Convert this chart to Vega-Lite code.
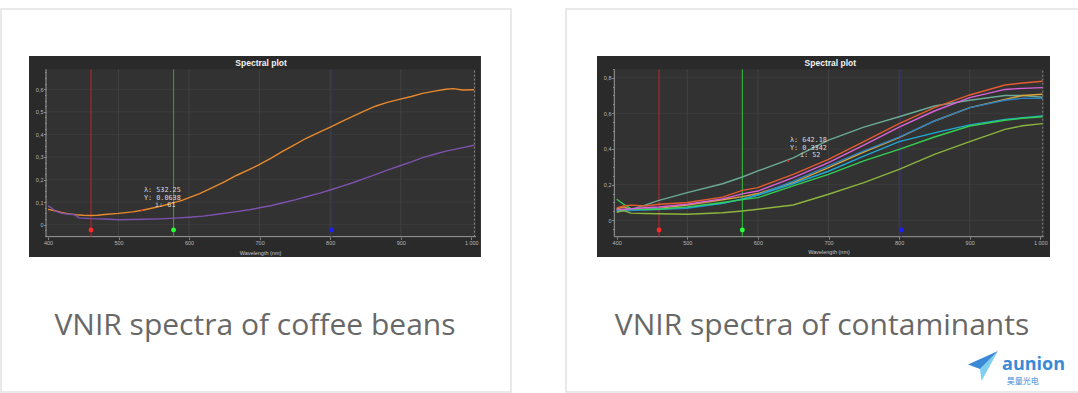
{
  "$schema": "https://vega.github.io/schema/vega-lite/v6.json",
  "background": "white",
  "padding": {"left": 0, "top": 8, "right": 0, "bottom": 0},
  "spacing": 53,
  "resolve": {"scale": {"color": "independent", "fill": "independent", "stroke": "independent", "x": "independent", "y": "independent"}},
  "config": {
    "view": {"stroke": "#e2e2e2", "strokeWidth": 1.5},
    "axis": {"domain": false, "grid": false, "labelFont": "Liberation Sans", "labelFontSize": 5.5, "labelColor": "#b8b8b8", "tickColor": "#9a9a9a", "tickWidth": 0.8, "tickSize": 2.5, "labelOverlap": false, "labelFlush": false, "titleFont": "Liberation Sans", "titleFontSize": 5.5, "titleColor": "#c4c4c4", "titleFontWeight": "normal"}
  },
  "datasets": {
    "coffee": [
      {"s":"bean1","x":400,"y":0.068},{"s":"bean1","x":410,"y":0.062},{"s":"bean1","x":420,"y":0.053},{"s":"bean1","x":430,"y":0.048},{"s":"bean1","x":440,"y":0.044},{"s":"bean1","x":450,"y":0.042},{"s":"bean1","x":460,"y":0.041},{"s":"bean1","x":470,"y":0.042},{"s":"bean1","x":480,"y":0.045},{"s":"bean1","x":500,"y":0.05},{"s":"bean1","x":520,"y":0.057},{"s":"bean1","x":534,"y":0.064},{"s":"bean1","x":550,"y":0.075},{"s":"bean1","x":565,"y":0.086},{"s":"bean1","x":577,"y":0.097},{"s":"bean1","x":590,"y":0.108},{"s":"bean1","x":600,"y":0.12},{"s":"bean1","x":615,"y":0.138},{"s":"bean1","x":633,"y":0.164},{"s":"bean1","x":650,"y":0.19},{"s":"bean1","x":667,"y":0.218},{"s":"bean1","x":685,"y":0.244},{"s":"bean1","x":700,"y":0.267},{"s":"bean1","x":717,"y":0.296},{"s":"bean1","x":733,"y":0.326},{"s":"bean1","x":750,"y":0.355},{"s":"bean1","x":766,"y":0.383},{"s":"bean1","x":784,"y":0.409},{"s":"bean1","x":801,"y":0.433},{"s":"bean1","x":816,"y":0.457},{"s":"bean1","x":832,"y":0.48},{"s":"bean1","x":848,"y":0.503},{"s":"bean1","x":865,"y":0.526},{"s":"bean1","x":881,"y":0.542},{"s":"bean1","x":898,"y":0.555},{"s":"bean1","x":915,"y":0.568},{"s":"bean1","x":931,"y":0.582},{"s":"bean1","x":948,"y":0.592},{"s":"bean1","x":964,"y":0.6},{"s":"bean1","x":974,"y":0.603},{"s":"bean1","x":988,"y":0.597},{"s":"bean1","x":1004,"y":0.598},
      {"s":"bean2","x":400,"y":0.083},{"s":"bean2","x":405,"y":0.075},{"s":"bean2","x":410,"y":0.06},{"s":"bean2","x":420,"y":0.05},{"s":"bean2","x":430,"y":0.046},{"s":"bean2","x":437,"y":0.045},{"s":"bean2","x":444,"y":0.03},{"s":"bean2","x":460,"y":0.027},{"s":"bean2","x":480,"y":0.025},{"s":"bean2","x":500,"y":0.022},{"s":"bean2","x":520,"y":0.023},{"s":"bean2","x":538,"y":0.024},{"s":"bean2","x":560,"y":0.026},{"s":"bean2","x":580,"y":0.029},{"s":"bean2","x":600,"y":0.033},{"s":"bean2","x":620,"y":0.038},{"s":"bean2","x":640,"y":0.046},{"s":"bean2","x":667,"y":0.058},{"s":"bean2","x":685,"y":0.066},{"s":"bean2","x":700,"y":0.075},{"s":"bean2","x":717,"y":0.085},{"s":"bean2","x":733,"y":0.097},{"s":"bean2","x":750,"y":0.11},{"s":"bean2","x":766,"y":0.124},{"s":"bean2","x":784,"y":0.139},{"s":"bean2","x":801,"y":0.155},{"s":"bean2","x":816,"y":0.17},{"s":"bean2","x":832,"y":0.186},{"s":"bean2","x":848,"y":0.204},{"s":"bean2","x":865,"y":0.223},{"s":"bean2","x":881,"y":0.242},{"s":"bean2","x":898,"y":0.26},{"s":"bean2","x":915,"y":0.278},{"s":"bean2","x":931,"y":0.297},{"s":"bean2","x":948,"y":0.312},{"s":"bean2","x":964,"y":0.326},{"s":"bean2","x":983,"y":0.338},{"s":"bean2","x":1004,"y":0.352}
    ],
    "contam": [
      {"s":"teal","x":400,"y":0.06},{"s":"teal","x":410,"y":0.055},{"s":"teal","x":420,"y":0.06},{"s":"teal","x":440,"y":0.085},{"s":"teal","x":460,"y":0.112},{"s":"teal","x":500,"y":0.155},{"s":"teal","x":550,"y":0.205},{"s":"teal","x":578,"y":0.243},{"s":"teal","x":600,"y":0.277},{"s":"teal","x":650,"y":0.35},{"s":"teal","x":700,"y":0.45},{"s":"teal","x":750,"y":0.523},{"s":"teal","x":800,"y":0.581},{"s":"teal","x":850,"y":0.641},{"s":"teal","x":900,"y":0.673},{"s":"teal","x":950,"y":0.7},{"s":"teal","x":975,"y":0.7},{"s":"teal","x":1003,"y":0.69},
      {"s":"yellow","x":400,"y":0.065},{"s":"yellow","x":410,"y":0.075},{"s":"yellow","x":420,"y":0.06},{"s":"yellow","x":440,"y":0.062},{"s":"yellow","x":460,"y":0.067},{"s":"yellow","x":500,"y":0.086},{"s":"yellow","x":550,"y":0.115},{"s":"yellow","x":578,"y":0.133},{"s":"yellow","x":600,"y":0.15},{"s":"yellow","x":650,"y":0.211},{"s":"yellow","x":700,"y":0.295},{"s":"yellow","x":750,"y":0.383},{"s":"yellow","x":800,"y":0.464},{"s":"yellow","x":850,"y":0.557},{"s":"yellow","x":900,"y":0.632},{"s":"yellow","x":950,"y":0.678},{"s":"yellow","x":975,"y":0.7},{"s":"yellow","x":1003,"y":0.707},
      {"s":"blue","x":400,"y":0.05},{"s":"blue","x":420,"y":0.055},{"s":"blue","x":440,"y":0.058},{"s":"blue","x":460,"y":0.06},{"s":"blue","x":500,"y":0.067},{"s":"blue","x":550,"y":0.095},{"s":"blue","x":578,"y":0.118},{"s":"blue","x":600,"y":0.142},{"s":"blue","x":650,"y":0.22},{"s":"blue","x":700,"y":0.305},{"s":"blue","x":750,"y":0.389},{"s":"blue","x":800,"y":0.467},{"s":"blue","x":850,"y":0.557},{"s":"blue","x":900,"y":0.632},{"s":"blue","x":950,"y":0.673},{"s":"blue","x":975,"y":0.685},{"s":"blue","x":1003,"y":0.684},
      {"s":"cyan","x":400,"y":0.055},{"s":"cyan","x":420,"y":0.06},{"s":"cyan","x":440,"y":0.062},{"s":"cyan","x":460,"y":0.064},{"s":"cyan","x":500,"y":0.071},{"s":"cyan","x":550,"y":0.095},{"s":"cyan","x":578,"y":0.12},{"s":"cyan","x":600,"y":0.142},{"s":"cyan","x":650,"y":0.205},{"s":"cyan","x":700,"y":0.275},{"s":"cyan","x":750,"y":0.36},{"s":"cyan","x":800,"y":0.441},{"s":"cyan","x":850,"y":0.49},{"s":"cyan","x":900,"y":0.535},{"s":"cyan","x":950,"y":0.566},{"s":"cyan","x":975,"y":0.575},{"s":"cyan","x":1003,"y":0.585},
      {"s":"green","x":400,"y":0.118},{"s":"green","x":410,"y":0.09},{"s":"green","x":420,"y":0.065},{"s":"green","x":440,"y":0.06},{"s":"green","x":460,"y":0.062},{"s":"green","x":500,"y":0.075},{"s":"green","x":550,"y":0.1},{"s":"green","x":578,"y":0.116},{"s":"green","x":600,"y":0.127},{"s":"green","x":650,"y":0.193},{"s":"green","x":700,"y":0.258},{"s":"green","x":750,"y":0.333},{"s":"green","x":800,"y":0.398},{"s":"green","x":850,"y":0.467},{"s":"green","x":900,"y":0.529},{"s":"green","x":950,"y":0.561},{"s":"green","x":975,"y":0.572},{"s":"green","x":1003,"y":0.581},
      {"s":"olive","x":400,"y":0.045},{"s":"olive","x":410,"y":0.055},{"s":"olive","x":420,"y":0.04},{"s":"olive","x":440,"y":0.038},{"s":"olive","x":460,"y":0.037},{"s":"olive","x":500,"y":0.034},{"s":"olive","x":550,"y":0.042},{"s":"olive","x":578,"y":0.052},{"s":"olive","x":600,"y":0.062},{"s":"olive","x":650,"y":0.086},{"s":"olive","x":700,"y":0.146},{"s":"olive","x":750,"y":0.211},{"s":"olive","x":800,"y":0.286},{"s":"olive","x":850,"y":0.37},{"s":"olive","x":900,"y":0.441},{"s":"olive","x":950,"y":0.51},{"s":"olive","x":975,"y":0.53},{"s":"olive","x":1003,"y":0.542},
      {"s":"magenta","x":400,"y":0.06},{"s":"magenta","x":420,"y":0.065},{"s":"magenta","x":440,"y":0.07},{"s":"magenta","x":460,"y":0.075},{"s":"magenta","x":500,"y":0.09},{"s":"magenta","x":550,"y":0.12},{"s":"magenta","x":578,"y":0.148},{"s":"magenta","x":600,"y":0.164},{"s":"magenta","x":650,"y":0.239},{"s":"magenta","x":700,"y":0.323},{"s":"magenta","x":750,"y":0.422},{"s":"magenta","x":800,"y":0.523},{"s":"magenta","x":850,"y":0.613},{"s":"magenta","x":900,"y":0.688},{"s":"magenta","x":950,"y":0.734},{"s":"magenta","x":975,"y":0.74},{"s":"magenta","x":1003,"y":0.744},
      {"s":"red","x":400,"y":0.07},{"s":"red","x":410,"y":0.08},{"s":"red","x":420,"y":0.085},{"s":"red","x":440,"y":0.08},{"s":"red","x":460,"y":0.09},{"s":"red","x":500,"y":0.1},{"s":"red","x":550,"y":0.13},{"s":"red","x":578,"y":0.168},{"s":"red","x":600,"y":0.183},{"s":"red","x":650,"y":0.258},{"s":"red","x":700,"y":0.342},{"s":"red","x":750,"y":0.441},{"s":"red","x":800,"y":0.542},{"s":"red","x":850,"y":0.632},{"s":"red","x":900,"y":0.703},{"s":"red","x":950,"y":0.759},{"s":"red","x":975,"y":0.77},{"s":"red","x":1003,"y":0.78}
    ]
  },
  "hconcat": [
    {
      "width": 510,
      "height": 383,
      "resolve": {"axis": {"y": "independent"}},
      "layer": [
        {"layer": [
        {"data": {"values": [{"x": 373.1, "x2": 1013.7, "y": -0.1431, "y2": 0.7475}]}, "mark": {"type": "rect", "fill": "#2a2a2a"},
          "encoding": {
            "x": {"field": "x", "type": "quantitative", "scale": {"domain": [333.4, 1056.3], "nice": false, "zero": false},
              "axis": {"zindex": 2, "offset": -155, "title": "Wavelength (nm)", "titleX": 259, "titleY": 15, "titleBaseline": "middle", "labelPadding": 1,
                "values": [400, 500, 600, 700, 800, 900, 1000],
                "labelExpr": "datum.value == 1000 ? '1 000' : '' + datum.value"}},
            "y": {"field": "y", "type": "quantitative", "scale": {"domain": [-0.7413, 0.9557], "nice": false, "zero": false},
              "axis": {"zindex": 2, "orient": "left", "offset": -45, "title": null, "labelPadding": 0.5,
                "values": [0, 0.1, 0.2, 0.3, 0.4, 0.5, 0.6],
                "labelExpr": "datum.value == 0 ? '0' : replace(format(datum.value, '.1f'), '.', ',')"}},
            "x2": {"field": "x2"}, "y2": {"field": "y2"}}},
        {"data": {"values": [{"x": 397.2, "x2": 1006.7, "y": -0.053, "y2": 0.689}]}, "mark": {"type": "rect", "fill": "#323232"}, "encoding": {"x": {"field": "x", "type": "quantitative"}, "y": {"field": "y", "type": "quantitative"}, "x2": {"field": "x2"}, "y2": {"field": "y2"}}},
        {"data": {"values": [{"x": 500, "y": -0.053, "y2": 0.689},{"x": 600, "y": -0.053, "y2": 0.689},{"x": 700, "y": -0.053, "y2": 0.689},{"x": 800, "y": -0.053, "y2": 0.689},{"x": 900, "y": -0.053, "y2": 0.689}]}, "mark": {"type": "rule", "stroke": "#474747", "strokeWidth": 0.7}, "encoding": {"x": {"field": "x", "type": "quantitative"}, "y": {"field": "y", "type": "quantitative"}, "y2": {"field": "y2"}}},
        {"data": {"values": [{"y": 0, "x": 397.2, "x2": 1006.7},{"y": 0.1, "x": 397.2, "x2": 1006.7},{"y": 0.2, "x": 397.2, "x2": 1006.7},{"y": 0.3, "x": 397.2, "x2": 1006.7},{"y": 0.4, "x": 397.2, "x2": 1006.7},{"y": 0.5, "x": 397.2, "x2": 1006.7},{"y": 0.6, "x": 397.2, "x2": 1006.7}]}, "mark": {"type": "rule", "stroke": "#404040", "strokeWidth": 0.7}, "encoding": {"x": {"field": "x", "type": "quantitative"}, "y": {"field": "y", "type": "quantitative"}, "x2": {"field": "x2"}}},
        {"data": {"values": [{"x": 397.2, "y": -0.053, "y2": 0.689}]}, "mark": {"type": "rule", "stroke": "#9c9c9c", "strokeWidth": 1}, "encoding": {"x": {"field": "x", "type": "quantitative"}, "y": {"field": "y", "type": "quantitative"}, "y2": {"field": "y2"}}},
        {"data": {"values": [{"y": -0.053, "x": 397.2, "x2": 1006.7}]}, "mark": {"type": "rule", "stroke": "#9c9c9c", "strokeWidth": 1}, "encoding": {"x": {"field": "x", "type": "quantitative"}, "y": {"field": "y", "type": "quantitative"}, "x2": {"field": "x2"}}},
        {"data": {"values": [{"x": 1004.5, "y": -0.053, "y2": 0.689}]}, "mark": {"type": "rule", "stroke": "#8a8a8a", "strokeWidth": 1, "strokeDash": [2, 2]}, "encoding": {"x": {"field": "x", "type": "quantitative"}, "y": {"field": "y", "type": "quantitative"}, "y2": {"field": "y2"}}},
        {"data": {"values": [{"m": "r", "x": 461, "y": -0.053, "y2": 0.689},{"m": "g", "x": 578, "y": -0.053, "y2": 0.689},{"m": "b", "x": 802, "y": -0.053, "y2": 0.689}]}, "mark": {"type": "rule", "strokeWidth": 1.1}, "encoding": {"x": {"field": "x", "type": "quantitative"}, "y": {"field": "y", "type": "quantitative"}, "y2": {"field": "y2"}, "stroke": {"field": "m", "type": "nominal", "scale": {"domain": ["r", "g", "b"], "range": ["#b5262b", "#2f9d37", "#2c2ca3"]}, "legend": null}}},
        {"data": {"name": "coffee"}, "mark": {"type": "line", "strokeWidth": 1.4}, "encoding": {"x": {"field": "x", "type": "quantitative"}, "y": {"field": "y", "type": "quantitative"}, "color": {"field": "s", "type": "nominal", "scale": {"domain": ["bean1", "bean2"], "range": ["#e8892c", "#7d52ad"]}, "legend": null}}},
        {"data": {"values": [{"m": "r", "x": 461, "y": -0.023},{"m": "g", "x": 578, "y": -0.023},{"m": "b", "x": 802, "y": -0.023}]}, "mark": {"type": "circle", "size": 24, "opacity": 1}, "encoding": {"x": {"field": "x", "type": "quantitative"}, "y": {"field": "y", "type": "quantitative"}, "fill": {"field": "m", "type": "nominal", "scale": {"domain": ["r", "g", "b"], "range": ["#ff2b2b", "#2bff3a", "#1e1eff"]}, "legend": null}}},
        {"data": {"values": [{"x": 533, "y": 0.065}]}, "mark": {"type": "circle", "size": 5, "color": "#e02a2a", "opacity": 1}, "encoding": {"x": {"field": "x", "type": "quantitative"}, "y": {"field": "y", "type": "quantitative"}}},
        {"data": {"values": [{"x": 536, "y": 0.152, "t": "λ:  532.25"},{"x": 536, "y": 0.12, "t": "Y:  0.0638"},{"x": 551.7, "y": 0.087, "t": "i: 61"}]}, "mark": {"type": "text", "font": "DejaVu Sans Mono", "fontSize": 6.8, "color": "#dcdcdc", "align": "left", "baseline": "middle"}, "encoding": {"x": {"field": "x", "type": "quantitative"}, "y": {"field": "y", "type": "quantitative"}, "text": {"field": "t"}}},
        {"data": {"values": [{"x": 702, "y": 0.718, "t": "Spectral plot"}]}, "mark": {"type": "text", "font": "Liberation Sans", "fontSize": 8.5, "fontWeight": "bold", "color": "#f2f2f2", "align": "center", "baseline": "middle"}, "encoding": {"x": {"field": "x", "type": "quantitative"}, "y": {"field": "y", "type": "quantitative"}, "text": {"field": "t"}}},
        {"data": {"values": [{"x": 693.4, "y": -0.449, "t": "VNIR spectra of coffee beans"}]}, "mark": {"type": "text", "font": "Open Sans", "fontSize": 30, "color": "#686868", "align": "center", "baseline": "middle"}, "encoding": {"x": {"field": "x", "type": "quantitative"}, "y": {"field": "y", "type": "quantitative"}, "text": {"field": "t"}}}
        ]},
        {"data": {"values": [{"y": 0}]}, "mark": {"type": "rule", "opacity": 0},
          "encoding": {"y": {"field": "y", "type": "quantitative",
            "axis": {"zindex": 2, "orient": "left", "offset": -45, "title": null, "labels": false, "tickSize": 1.5,
              "values": [-0.05,-0.025,0.025,0.05,0.075,0.125,0.15,0.175,0.225,0.25,0.275,0.325,0.35,0.375,0.425,0.45,0.475,0.525,0.55,0.575,0.625,0.65,0.675]}}}}
      ]
    },
    {
      "width": 520,
      "height": 383,
      "resolve": {"axis": {"y": "independent"}},
      "layer": [
        {"layer": [
        {"data": {"values": [{"x": 372.1, "x2": 1013.7, "y": -0.2058, "y2": 0.9215}]}, "mark": {"type": "rect", "fill": "#2a2a2a"},
          "encoding": {
            "x": {"field": "x", "type": "quantitative", "scale": {"domain": [328.2, 1064.7], "nice": false, "zero": false},
              "axis": {"zindex": 2, "offset": -155.3, "title": "Wavelength (nm)", "titleX": 262.5, "titleY": 15, "titleBaseline": "middle", "labelPadding": 1,
                "values": [400, 500, 600, 700, 800, 900, 1000],
                "labelExpr": "datum.value == 1000 ? '1 000' : '' + datum.value"}},
            "y": {"field": "y", "type": "quantitative", "scale": {"domain": [-0.963, 1.1851], "nice": false, "zero": false},
              "axis": {"zindex": 2, "orient": "left", "offset": -48, "title": null, "labelPadding": 0.5,
                "values": [0, 0.2, 0.4, 0.6, 0.8],
                "labelExpr": "datum.value == 0 ? '0' : replace(format(datum.value, '.1f'), '.', ',')"}},
            "x2": {"field": "x2"}, "y2": {"field": "y2"}}},
        {"data": {"values": [{"x": 396.6, "x2": 1004.8, "y": -0.092, "y2": 0.847}]}, "mark": {"type": "rect", "fill": "#323232"}, "encoding": {"x": {"field": "x", "type": "quantitative"}, "y": {"field": "y", "type": "quantitative"}, "x2": {"field": "x2"}, "y2": {"field": "y2"}}},
        {"data": {"values": [{"x": 500, "y": -0.092, "y2": 0.847},{"x": 600, "y": -0.092, "y2": 0.847},{"x": 700, "y": -0.092, "y2": 0.847},{"x": 800, "y": -0.092, "y2": 0.847},{"x": 900, "y": -0.092, "y2": 0.847}]}, "mark": {"type": "rule", "stroke": "#474747", "strokeWidth": 0.7}, "encoding": {"x": {"field": "x", "type": "quantitative"}, "y": {"field": "y", "type": "quantitative"}, "y2": {"field": "y2"}}},
        {"data": {"values": [{"y": 0, "x": 396.6, "x2": 1004.8},{"y": 0.2, "x": 396.6, "x2": 1004.8},{"y": 0.4, "x": 396.6, "x2": 1004.8},{"y": 0.6, "x": 396.6, "x2": 1004.8},{"y": 0.8, "x": 396.6, "x2": 1004.8}]}, "mark": {"type": "rule", "stroke": "#404040", "strokeWidth": 0.7}, "encoding": {"x": {"field": "x", "type": "quantitative"}, "y": {"field": "y", "type": "quantitative"}, "x2": {"field": "x2"}}},
        {"data": {"values": [{"x": 396.6, "y": -0.092, "y2": 0.847}]}, "mark": {"type": "rule", "stroke": "#9c9c9c", "strokeWidth": 1}, "encoding": {"x": {"field": "x", "type": "quantitative"}, "y": {"field": "y", "type": "quantitative"}, "y2": {"field": "y2"}}},
        {"data": {"values": [{"y": -0.092, "x": 396.6, "x2": 1004.8}]}, "mark": {"type": "rule", "stroke": "#9c9c9c", "strokeWidth": 1}, "encoding": {"x": {"field": "x", "type": "quantitative"}, "y": {"field": "y", "type": "quantitative"}, "x2": {"field": "x2"}}},
        {"data": {"values": [{"x": 1003.5, "y": -0.092, "y2": 0.847}]}, "mark": {"type": "rule", "stroke": "#8a8a8a", "strokeWidth": 1, "strokeDash": [2, 2]}, "encoding": {"x": {"field": "x", "type": "quantitative"}, "y": {"field": "y", "type": "quantitative"}, "y2": {"field": "y2"}}},
        {"data": {"values": [{"m": "r", "x": 460, "y": -0.092, "y2": 0.847},{"m": "g", "x": 578, "y": -0.092, "y2": 0.847},{"m": "b", "x": 803, "y": -0.092, "y2": 0.847}]}, "mark": {"type": "rule", "strokeWidth": 1.1}, "encoding": {"x": {"field": "x", "type": "quantitative"}, "y": {"field": "y", "type": "quantitative"}, "y2": {"field": "y2"}, "stroke": {"field": "m", "type": "nominal", "scale": {"domain": ["r", "g", "b"], "range": ["#b5262b", "#2fb53a", "#2c2ca3"]}, "legend": null}}},
        {"data": {"name": "contam"}, "mark": {"type": "line", "strokeWidth": 1.4}, "encoding": {"x": {"field": "x", "type": "quantitative"}, "y": {"field": "y", "type": "quantitative"}, "color": {"field": "s", "type": "nominal", "scale": {"domain": ["teal", "yellow", "blue", "cyan", "green", "olive", "magenta", "red"], "range": ["#6aab95", "#d9a43a", "#2c80c2", "#1fa8d2", "#32cf52", "#8cb53e", "#d962d9", "#e35b2f"]}, "legend": null}}},
        {"data": {"values": [{"m": "r", "x": 460, "y": -0.054},{"m": "g", "x": 578, "y": -0.054},{"m": "b", "x": 803, "y": -0.054}]}, "mark": {"type": "circle", "size": 24, "opacity": 1}, "encoding": {"x": {"field": "x", "type": "quantitative"}, "y": {"field": "y", "type": "quantitative"}, "fill": {"field": "m", "type": "nominal", "scale": {"domain": ["r", "g", "b"], "range": ["#ff2b2b", "#2bff3a", "#1e1eff"]}, "legend": null}}},
        {"data": {"values": [{"x": 643, "y": 0.333}]}, "mark": {"type": "circle", "size": 5, "color": "#e02a2a", "opacity": 1}, "encoding": {"x": {"field": "x", "type": "quantitative"}, "y": {"field": "y", "type": "quantitative"}}},
        {"data": {"values": [{"x": 645.5, "y": 0.449, "t": "λ:  642.18"},{"x": 645.5, "y": 0.407, "t": "Y:  0.3342"},{"x": 659.6, "y": 0.366, "t": "i: 52"}]}, "mark": {"type": "text", "font": "DejaVu Sans Mono", "fontSize": 6.8, "color": "#dcdcdc", "align": "left", "baseline": "middle"}, "encoding": {"x": {"field": "x", "type": "quantitative"}, "y": {"field": "y", "type": "quantitative"}, "text": {"field": "t"}}},
        {"data": {"values": [{"x": 702.6, "y": 0.884, "t": "Spectral plot"}]}, "mark": {"type": "text", "font": "Liberation Sans", "fontSize": 8.5, "fontWeight": "bold", "color": "#f2f2f2", "align": "center", "baseline": "middle"}, "encoding": {"x": {"field": "x", "type": "quantitative"}, "y": {"field": "y", "type": "quantitative"}, "text": {"field": "t"}}},
        {"data": {"values": [{"x": 690.8, "y": -0.593, "t": "VNIR spectra of contaminants"}]}, "mark": {"type": "text", "font": "Open Sans", "fontSize": 30, "color": "#686868", "align": "center", "baseline": "middle"}, "encoding": {"x": {"field": "x", "type": "quantitative"}, "y": {"field": "y", "type": "quantitative"}, "text": {"field": "t"}}},
        {"data": {"values": [{"x": 918.8, "y": -0.817}]}, "mark": {"type": "point", "filled": true, "size": 900, "color": "#7fd0ef", "opacity": 1, "shape": "M 1 -1 L -0.1 1 L -0.2 0.2 Z"}, "encoding": {"x": {"field": "x", "type": "quantitative"}, "y": {"field": "y", "type": "quantitative"}}},
        {"data": {"values": [{"x": 918.8, "y": -0.817}]}, "mark": {"type": "point", "filled": true, "size": 900, "color": "#3b8ad6", "opacity": 1, "shape": "M 1 -1 L -1 -0.1 L -0.2 0.2 Z"}, "encoding": {"x": {"field": "x", "type": "quantitative"}, "y": {"field": "y", "type": "quantitative"}}},
        {"data": {"values": [{"x": 945.8, "y": -0.81, "t": "aunion"}]}, "mark": {"type": "text", "font": "Open Sans", "fontSize": 18, "fontWeight": "bold", "color": "#3b8ad6", "align": "left", "baseline": "middle"}, "encoding": {"x": {"field": "x", "type": "quantitative"}, "y": {"field": "y", "type": "quantitative"}, "text": {"field": "t"}}},
        {"data": {"values": [{"x": 952.4, "y": -0.905, "t": "昊量光电"}]}, "mark": {"type": "text", "font": "Noto Sans CJK SC", "fontSize": 8, "color": "#3b8ad6", "align": "left", "baseline": "middle"}, "encoding": {"x": {"field": "x", "type": "quantitative"}, "y": {"field": "y", "type": "quantitative"}, "text": {"field": "t"}}}
        ]},
        {"data": {"values": [{"y": 0}]}, "mark": {"type": "rule", "opacity": 0},
          "encoding": {"y": {"field": "y", "type": "quantitative",
            "axis": {"zindex": 2, "orient": "left", "offset": -48, "title": null, "labels": false, "tickSize": 1.5,
              "values": [-0.05,0.05,0.1,0.15,0.25,0.3,0.35,0.45,0.5,0.55,0.65,0.7,0.75,0.85]}}}}
      ]
    }
  ]
}
